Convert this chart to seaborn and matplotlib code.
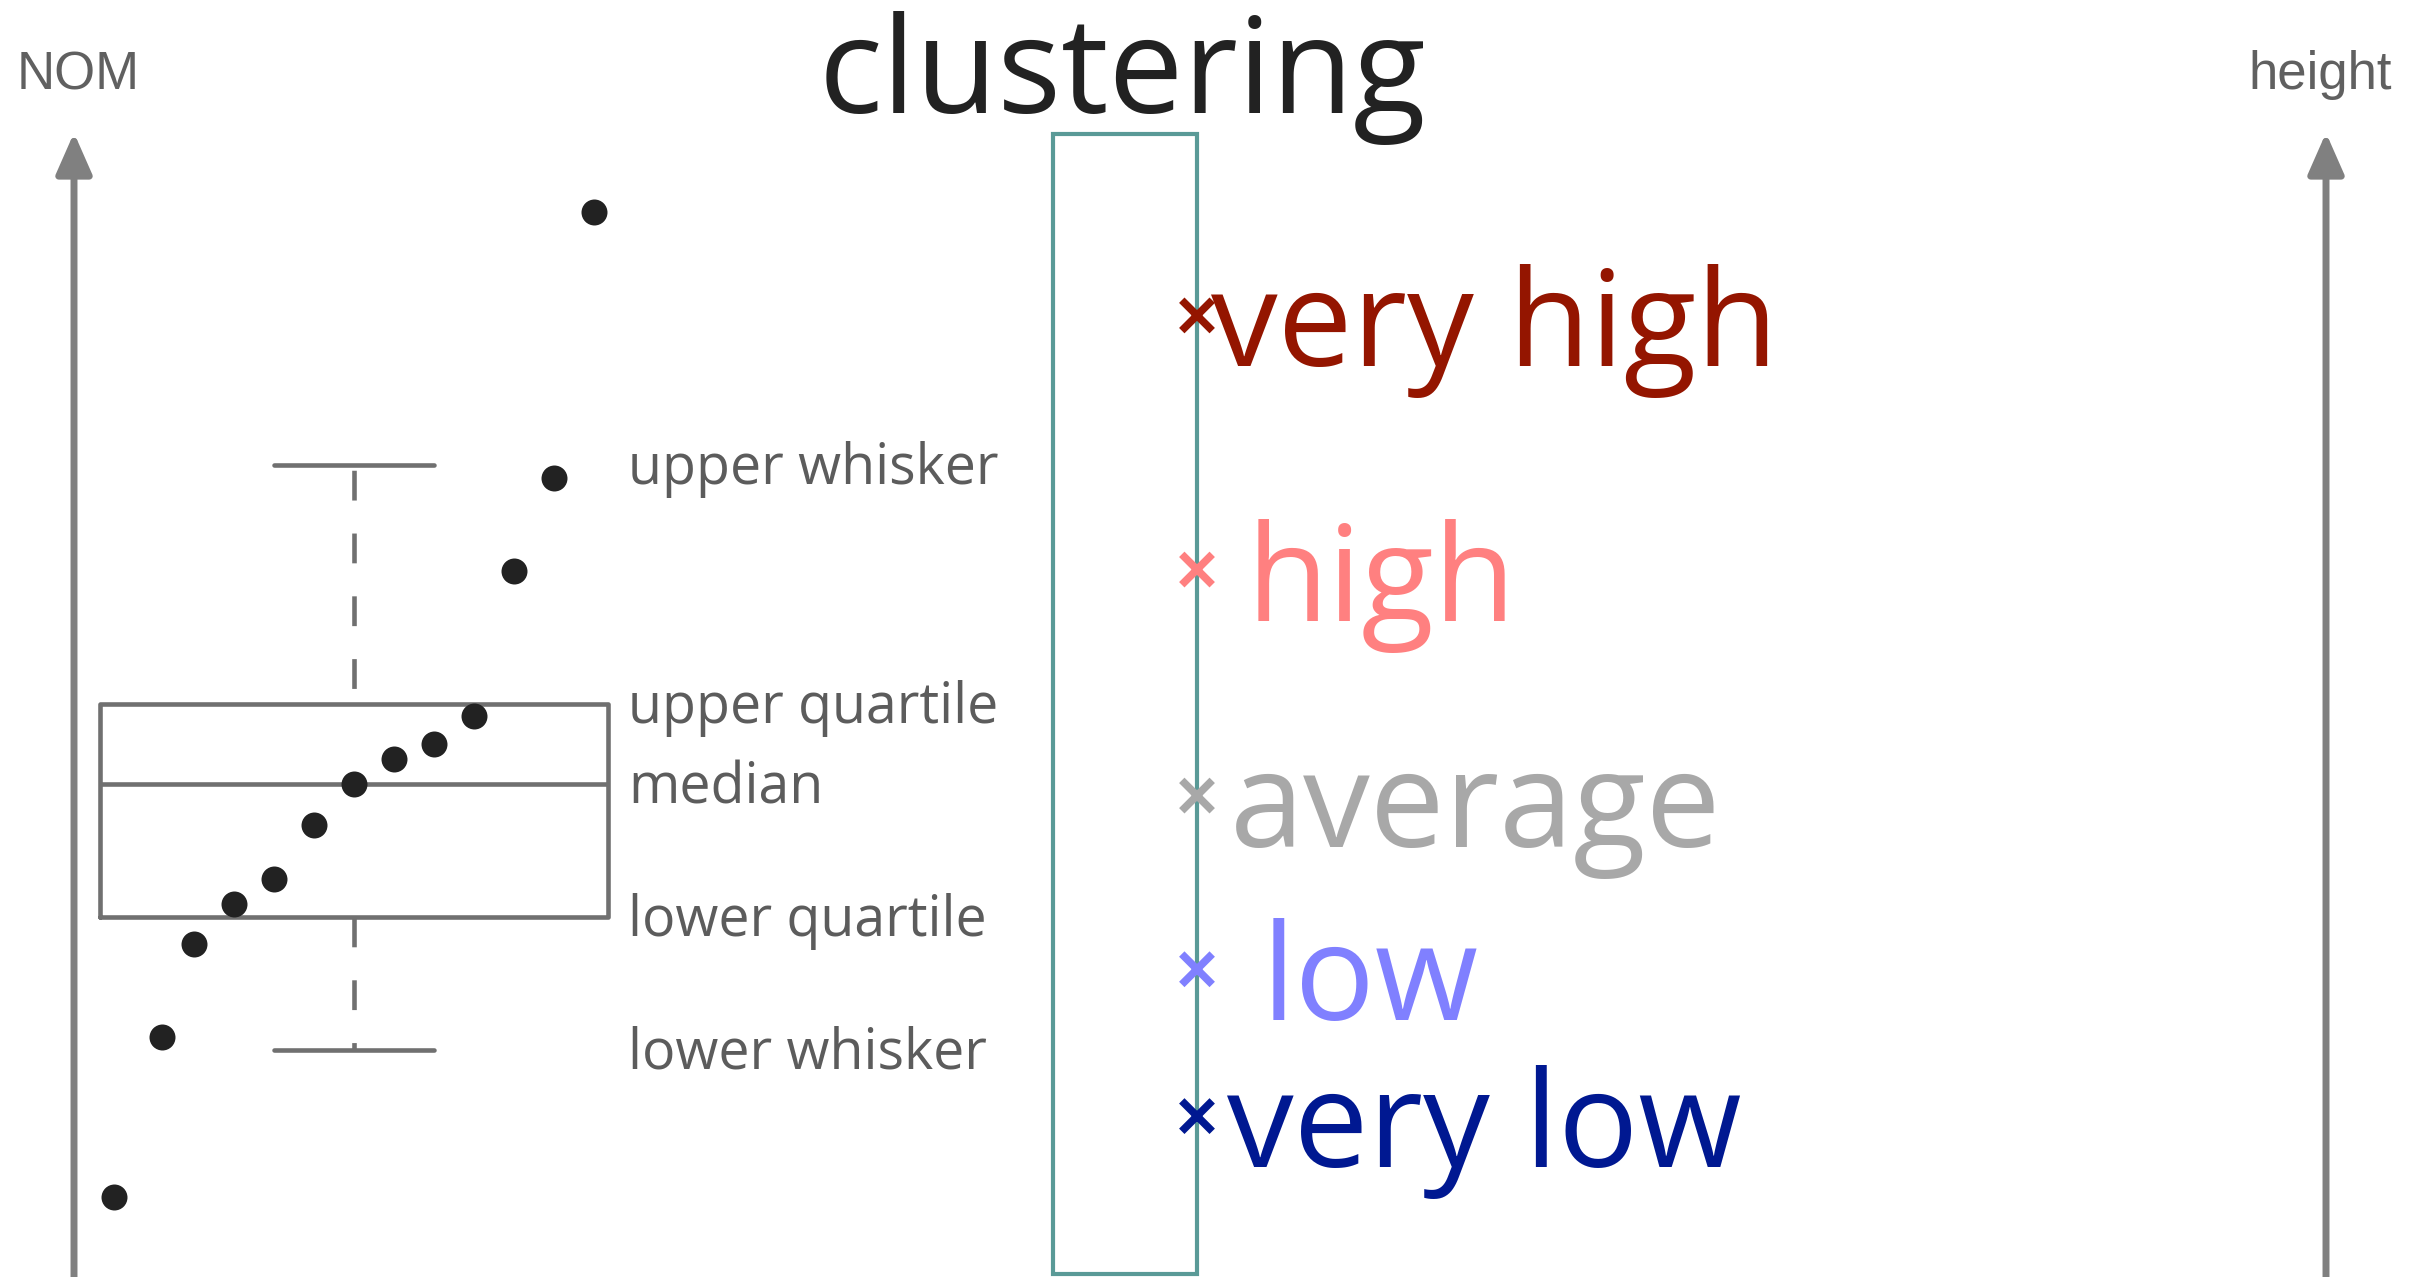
import matplotlib
matplotlib.use("Agg")
import matplotlib.pyplot as plt
import seaborn as sns
import pandas as pd
from matplotlib.patches import Rectangle

# ------------------------------
# Data
# x: rank of the observation, y: height on a 0-100 scale
# ------------------------------
nom_rank = [1, 2.2, 3, 4, 5, 6, 7, 8, 9, 10, 11, 12, 13]
nom_height = [6.3, 18.8, 26.1, 29.2, 31.2, 35.4, 38.6, 40.6, 41.7, 43.9, 55.3, 62.6, 83.4]

box_stats = {"whislo": 17.8, "q1": 28.2, "med": 38.6, "q3": 44.9, "whishi": 63.6}
stat_names = ["upper whisker", "upper quartile", "median", "lower quartile", "lower whisker"]
stat_keys = ["whishi", "q3", "med", "q1", "whislo"]

clusters = ["very high", "high", "average", "low", "very low"]
cluster_height = [75.3, 55.4, 37.7, 24.1, 12.6]
cluster_colors = ["#941500", "#ff8080", "#a8a8a8", "#8080ff", "#001891"]

# ------------------------------
# Layout
# ------------------------------
W, H, DPI = 2429, 1277, 100
sns.set_style("white")

fig = plt.figure(figsize=(W / DPI, H / DPI), dpi=DPI)
ax = fig.add_axes([0, 0, 1, 1])
ax.set_xlim(-74 / 40, (W - 74) / 40)
ax.set_ylim(0, 100)
ax.axis("off")

grey = "#808080"
box_grey = "#707070"
label_grey = "#5c5c5c"

# axis arrows
for xa in [0, 56.3]:
    ax.annotate("", xy=(xa, 89.6), xytext=(xa, -2),
                arrowprops=dict(arrowstyle="-|>,head_length=2.5,head_width=1.1",
                                color=grey, lw=5, mutation_scale=10,
                                shrinkA=0, shrinkB=0))
ax.text(0.1, 93.0, "NOM", ha="center", va="baseline", fontsize=38,
        color="#606060", family="Liberation Sans")
ax.text(56.15, 93.0, "height", ha="center", va="baseline", fontsize=38,
        color="#606060", family="Liberation Sans")

# box plot
lw_box = 3.3
stats = [dict(box_stats, fliers=[])]
bp = ax.bxp(stats, positions=[7], widths=[12.7], capwidths=[4.0],
            showfliers=False, patch_artist=False,
            boxprops=dict(color=box_grey, lw=lw_box),
            medianprops=dict(color=box_grey, lw=lw_box),
            capprops=dict(color=box_grey, lw=lw_box),
            whiskerprops=dict(color=box_grey, lw=lw_box, linestyle=(0, (6.5, 7.2))))
bp["whiskers"][1].set_linestyle((10.3, (6.5, 7.2)))

for name, key in zip(stat_names, stat_keys):
    ax.annotate(name, xy=(13.85, box_stats[key]), xytext=(0, -19),
                textcoords="offset pixels", ha="left", va="baseline",
                fontsize=40, color=label_grey, family="Open Sans")

# observations
dots = pd.DataFrame({"rank": nom_rank, "height": nom_height})
sns.scatterplot(data=dots, x="rank", y="height", ax=ax, s=350,
                color="#222222", linewidth=0, legend=False, zorder=3)

# clustering column
ax.add_patch(Rectangle((24.475, 0.23), 3.6, 89.27, fill=False,
                       edgecolor="#5a9a97", lw=3))
ax.text(26.2, 91.15, "clustering", ha="center", va="baseline",
        fontsize=96, color="#222222", family="Open Sans")

cl = pd.DataFrame({"x": [28.075] * len(clusters), "height": cluster_height,
                   "cluster": clusters})
sns.scatterplot(data=cl, x="x", y="height", hue="cluster", palette=cluster_colors,
                hue_order=clusters, marker="x", s=480, linewidth=5.5,
                ax=ax, legend=False, zorder=4)

text_dx = [14, 50, 33, 65, 30]
for name, h, c, dx in zip(clusters, cluster_height, cluster_colors, text_dx):
    ax.annotate(name, xy=(28.075, h), xytext=(dx, -51), textcoords="offset pixels",
                ha="left", va="baseline", fontsize=96, color=c, family="Open Sans")

ax.set_xlim(-74 / 40, (W - 74) / 40)
ax.set_ylim(0, 100)
fig.savefig("out.png", dpi=DPI)
